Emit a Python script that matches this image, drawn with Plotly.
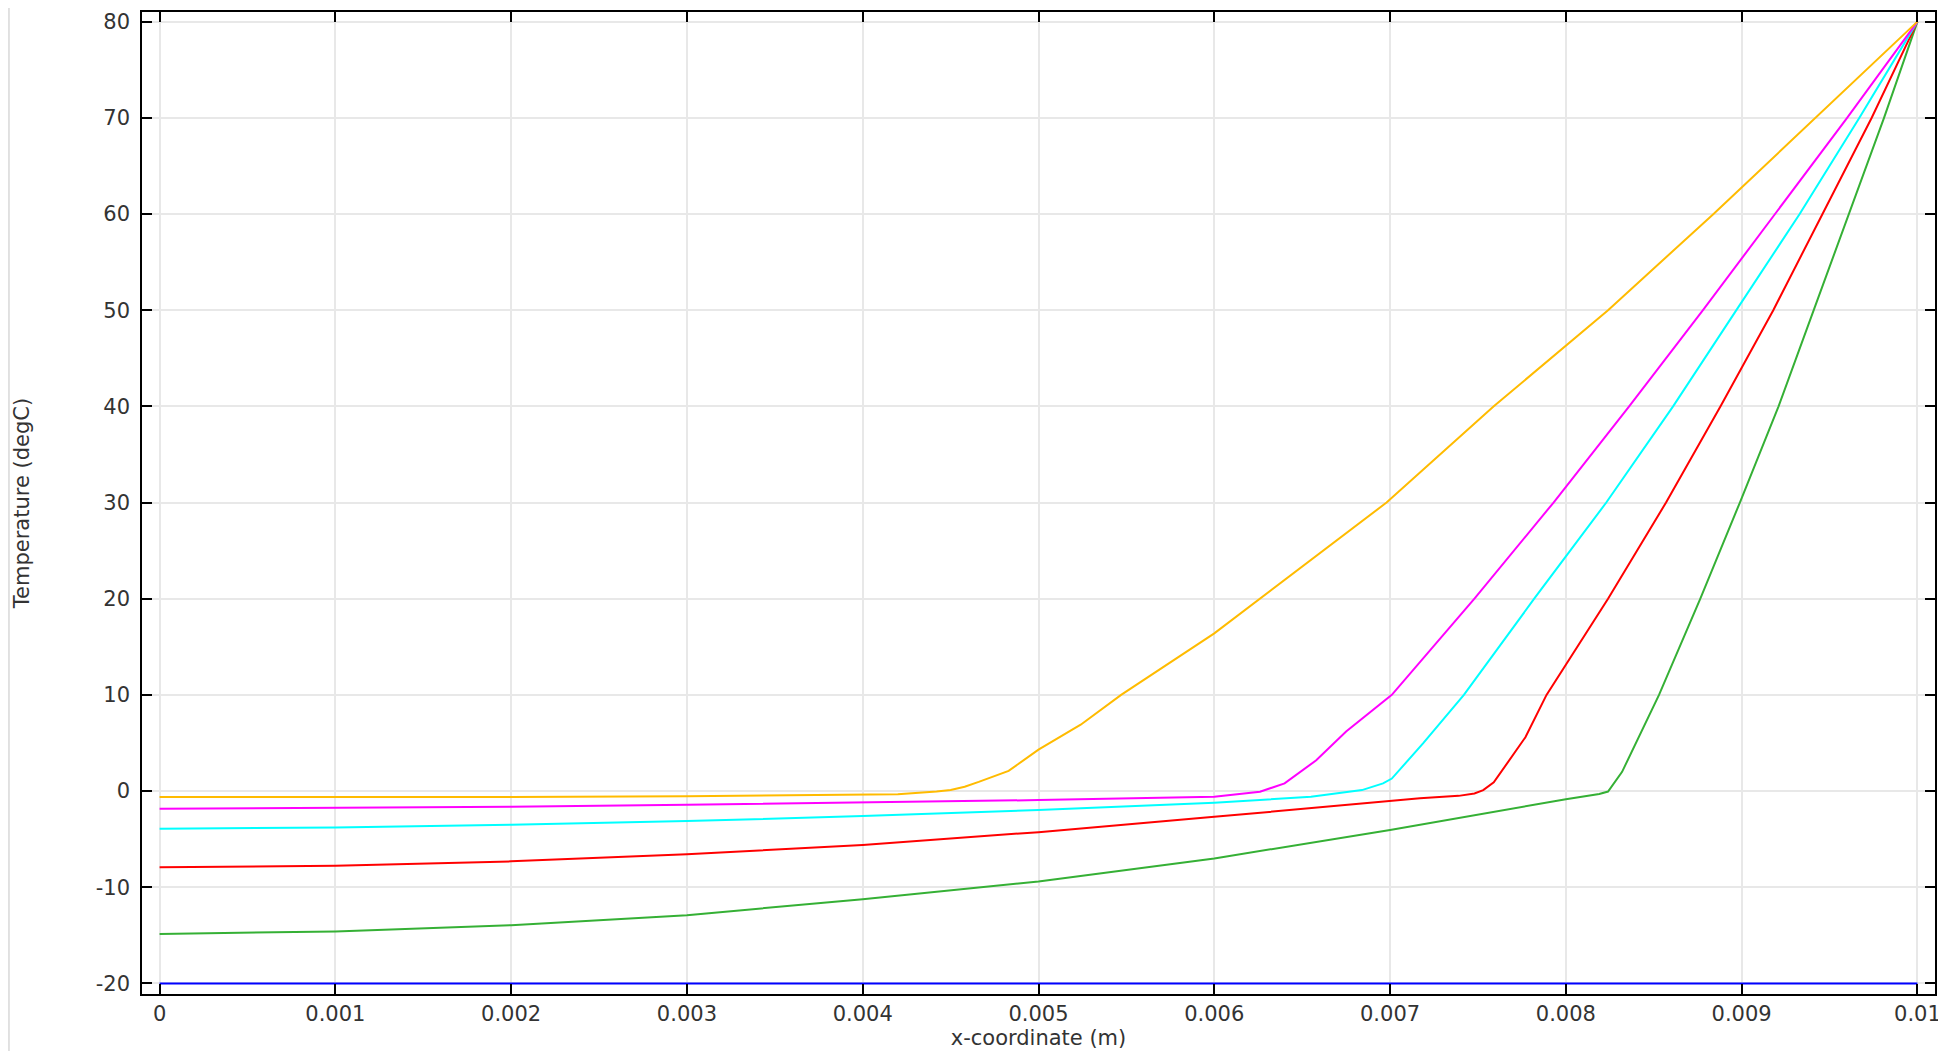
import plotly.graph_objects as go

# x positions in metres, temperatures in degC
x_blue = [0.0, 0.0025, 0.005, 0.0075, 0.01]
t_blue = [-20.0, -20.0, -20.0, -20.0, -20.0]

x_green = [0.0, 0.001, 0.002, 0.003, 0.004, 0.005, 0.006, 0.007, 0.008, 0.00819,
           0.00824, 0.00832, 0.00853, 0.008765, 0.00899, 0.00921, 0.00941, 0.00961, 0.00981, 0.01]
t_green = [-14.85, -14.6, -13.95, -12.9, -11.25, -9.4, -7.0, -4.05, -0.85, -0.3,
           -0.05, 2.0, 10.0, 20.0, 30.0, 40.0, 50.0, 60.0, 70.0, 80.0]

x_red = [0.0, 0.001, 0.002, 0.003, 0.004, 0.005, 0.006, 0.007, 0.00717, 0.00739,
         0.00748, 0.00753, 0.00759, 0.00777, 0.00789, 0.00824, 0.00857, 0.00888, 0.00918,
         0.00946, 0.00974, 0.01]
t_red = [-7.93, -7.76, -7.31, -6.58, -5.6, -4.27, -2.68, -1.1, -0.76, -0.5,
         -0.25, 0.1, 0.9, 5.6, 10.0, 20.0, 30.0, 40.0, 50.0,
         60.0, 70.0, 80.0]

x_cyan = [0.0, 0.001, 0.002, 0.003, 0.004, 0.005, 0.006, 0.00655, 0.00684, 0.00696,
          0.00701, 0.00719, 0.00742, 0.00782, 0.00823, 0.00861, 0.00897, 0.00933, 0.00967, 0.01]
t_cyan = [-3.92, -3.78, -3.5, -3.12, -2.6, -1.97, -1.21, -0.6, 0.1, 0.8,
          1.3, 5.0, 10.0, 20.0, 30.0, 40.0, 50.0, 60.0, 70.0, 80.0]

x_magenta = [0.0, 0.001, 0.002, 0.003, 0.004, 0.005, 0.006, 0.00626, 0.0064, 0.00658,
             0.00675, 0.00701, 0.00748, 0.00793, 0.00836, 0.00878, 0.00919, 0.0096, 0.01]
t_magenta = [-1.84, -1.77, -1.63, -1.42, -1.2, -0.94, -0.6, -0.07, 0.8, 3.2,
             6.2, 10.0, 20.0, 30.0, 40.0, 50.0, 60.0, 70.0, 80.0]

x_orange = [0.0, 0.001, 0.002, 0.003, 0.004, 0.0042, 0.00442, 0.0045, 0.00458, 0.00466,
            0.00483, 0.005, 0.00524, 0.00547, 0.006, 0.00626, 0.00698, 0.00759, 0.00824,
            0.00884, 0.00942, 0.01]
t_orange = [-0.63, -0.63, -0.62, -0.55, -0.42, -0.32, -0.05, 0.12, 0.45, 0.95,
            2.1, 4.3, 6.9, 10.0, 16.4, 20.0, 30.0, 40.0, 50.0,
            60.0, 70.0, 80.0]

x_ticks = [0, 0.001, 0.002, 0.003, 0.004, 0.005, 0.006, 0.007, 0.008, 0.009, 0.01]
x_tick_labels = ["0", "0.001", "0.002", "0.003", "0.004", "0.005", "0.006", "0.007", "0.008", "0.009", "0.01"]
y_ticks = [-20, -10, 0, 10, 20, 30, 40, 50, 60, 70, 80]
y_tick_labels = [str(v) for v in y_ticks]

series = [
    (x_blue, t_blue, "#0000ff"),
    (x_green, t_green, "#35b035"),
    (x_red, t_red, "#ff0000"),
    (x_cyan, t_cyan, "#00ffff"),
    (x_magenta, t_magenta, "#ff00ff"),
    (x_orange, t_orange, "#ffbb00"),
]

fig = go.Figure()
for xs, ts, col in series:
    fig.add_trace(go.Scatter(x=xs, y=ts, mode="lines", line=dict(color=col, width=2),
                             showlegend=False, hoverinfo="skip"))

font = dict(family="DejaVu Sans", size=21, color="#333333")
axis_common = dict(
    showline=True, linecolor="black", linewidth=1.5, mirror="ticks",
    ticks="inside", ticklen=10, tickwidth=1.5, tickcolor="black",
    showgrid=True, gridcolor="#e8e8e8", gridwidth=1.5, zeroline=False,
    tickfont=font, automargin=False,
)

# the page body adds an 8 px offset, margins are compensated for it
fig.update_layout(
    width=1946, height=1051,
    margin=dict(l=134, r=19, t=4, b=65),
    paper_bgcolor="white", plot_bgcolor="white",
    xaxis=dict(range=[-0.0001, 0.0101], tickvals=x_ticks, ticktext=x_tick_labels,
               title=dict(text="x-coordinate (m)", font=font, standoff=2), **axis_common),
    yaxis=dict(range=[-21.1, 81.0], tickvals=y_ticks, ticktext=y_tick_labels,
               ticklabelstandoff=6,
               title=dict(text="Temperature (degC)", font=font, standoff=60), **axis_common),
    shapes=[dict(type="line", xref="paper", yref="paper", x0=-0.0742, x1=-0.0742,
                 y0=-0.08, y1=1.01, line=dict(color="#d8d8d8", width=1.5))],
)

fig.write_html("out.html")
